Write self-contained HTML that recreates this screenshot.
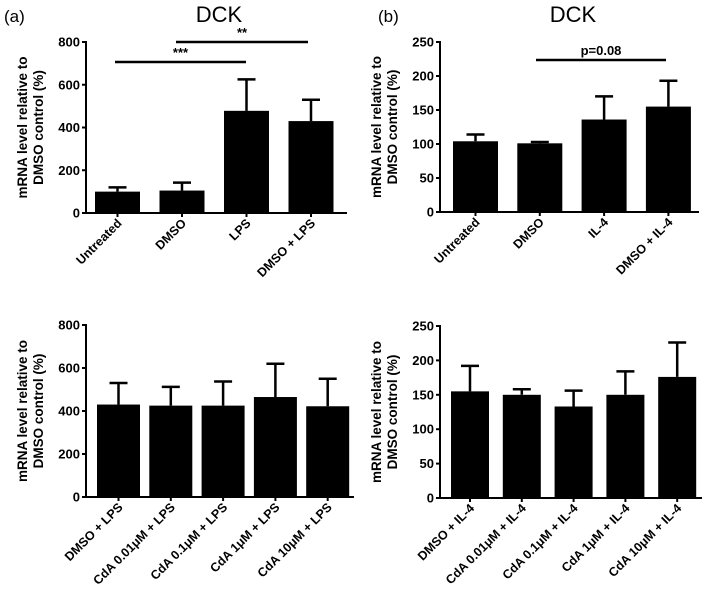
<!DOCTYPE html>
<html><head><meta charset="utf-8"><style>
html,body{margin:0;padding:0;background:#fff}
svg{display:block;font-family:"Liberation Sans",Arial,sans-serif}
</style></head><body>
<svg id="c" width="709" height="594" viewBox="0 0 709 594" xmlns="http://www.w3.org/2000/svg">
<text x="4" y="22" font-size="17">(a)</text>
<text x="378" y="22" font-size="17">(b)</text>
<text x="219" y="22" font-size="22" text-anchor="middle">DCK</text>
<text x="573" y="22" font-size="22" text-anchor="middle">DCK</text>
</svg>
<script>
const catsA=["Untreated","DMSO","LPS","DMSO + LPS"];
const valsA=[100,105,478,430];
const errA=[120,142,625,530];
const ticksA=[0,200,400,600,800];
const catsB=["Untreated","DMSO","IL-4","DMSO + IL-4"];
const valsB=[104,101,136,155];
const errB=[114,103,170,193];
const ticksB=[0,50,100,150,200,250];
const catsC=["DMSO + LPS","CdA 0.01μM + LPS","CdA 0.1μM + LPS","CdA 1μM + LPS","CdA 10μM + LPS"];
const valsC=[430,425,425,465,422];
const errC=[530,512,537,620,550];
const catsD=["DMSO + IL-4","CdA 0.01μM + IL-4","CdA 0.1μM + IL-4","CdA 1μM + IL-4","CdA 10μM + IL-4"];
const valsD=[155,150,133,150,176];
const errD=[192,158,156,184,226];
const NS="http://www.w3.org/2000/svg";
const svg=document.getElementById('c');
function mk(t,a,p){const e=document.createElementNS(NS,t);for(const k in a)e.setAttribute(k,a[k]);(p||svg).appendChild(e);return e;}
function panel(id,o,cats,vals,errs,ticks){
  const g=mk('g',{});
  
  
  const max=ticks[ticks.length-1];
  const y=v=>o.y0-(v/max)*(o.y0-o.y1);
  const bx=i=>o.x0+o.off+i*o.step;
  mk('line',{x1:o.x0,y1:o.y1-1,x2:o.x0,y2:o.y0,stroke:'#000','stroke-width':2},g);
  mk('line',{x1:o.x0,y1:o.y0,x2:o.xe,y2:o.y0,stroke:'#000','stroke-width':2},g);
  ticks.forEach(t=>{
    mk('line',{x1:o.x0-4,y1:y(t),x2:o.x0,y2:y(t),stroke:'#000','stroke-width':2},g);
    const tx=mk('text',{x:o.x0-6,y:y(t)+4.5,'font-size':13,'font-weight':'bold','text-anchor':'end'},g);
    tx.textContent=t;
    
    
  });
  const yl=mk('text',{transform:`translate(${o.x0-52},${(o.y0+o.y1)/2}) rotate(-90)`,'font-size':13.5,'font-weight':'bold','text-anchor':'middle'},g);
  
  
  const t1=mk('tspan',{x:0,dy:-7},yl);t1.textContent='mRNA level relative to';
  const t2=mk('tspan',{x:0,dy:16},yl);t2.textContent='DMSO control (%)';
  cats.forEach((c,i)=>{
    const x=bx(i),cx=x+o.w/2;
    const b=mk('rect',{x:x,y:y(vals[i]),width:o.w,height:o.y0-y(vals[i]),fill:'#000'},g);
    
    
    const e=mk('path',{d:`M${cx} ${y(vals[i])}V${y(errs[i])}M${cx-9} ${y(errs[i])}H${cx+9}`,stroke:'#000','stroke-width':2.5,fill:'none'},g);
    
    
    mk('line',{x1:cx,y1:o.y0,x2:cx,y2:o.y0+4,stroke:'#000','stroke-width':2},g);
    const l=mk('text',{transform:`translate(${cx+5},${o.y0+11}) rotate(-45)`,'font-size':12.5,'font-weight':'bold','text-anchor':'end'},g);
    l.textContent=c;
    
    
  });
  return {y,bx,g};
}
panel('panel-a-chart',{x0:86,xe:347,y0:213,y1:42,off:9,step:64.5,w:45},catsA,valsA,errA,ticksA);
panel('panel-b-chart',{x0:440,xe:699,y0:212,y1:42,off:13,step:64.3,w:45},catsB,valsB,errB,ticksB);
panel('panel-c-chart',{x0:86,xe:354,y0:497,y1:325,off:11,step:52.3,w:43},catsC,valsC,errC,ticksA);
panel('panel-d-chart',{x0:440,xe:702,y0:498,y1:326,off:11,step:51.8,w:38},catsD,valsD,errD,ticksB);
function sig(label,x1,x2,yy,name){
  const l=mk('line',{x1:x1,y1:yy,x2:x2,y2:yy,stroke:'#000','stroke-width':2.5});
  
  
  const t=mk('text',{x:(x1+x2)/2,y:yy-5,'font-size':13,'font-weight':'bold','text-anchor':'middle'});
  t.textContent=label;
  
  
}
sig('***',115,246,62,'sig-untreated-lps');
sig('**',176,308,42,'sig-dmso-dmsolps');
sig('p=0.08',536,666,60,'sig-dmso-dmsoil4');
</script>
</body></html>
